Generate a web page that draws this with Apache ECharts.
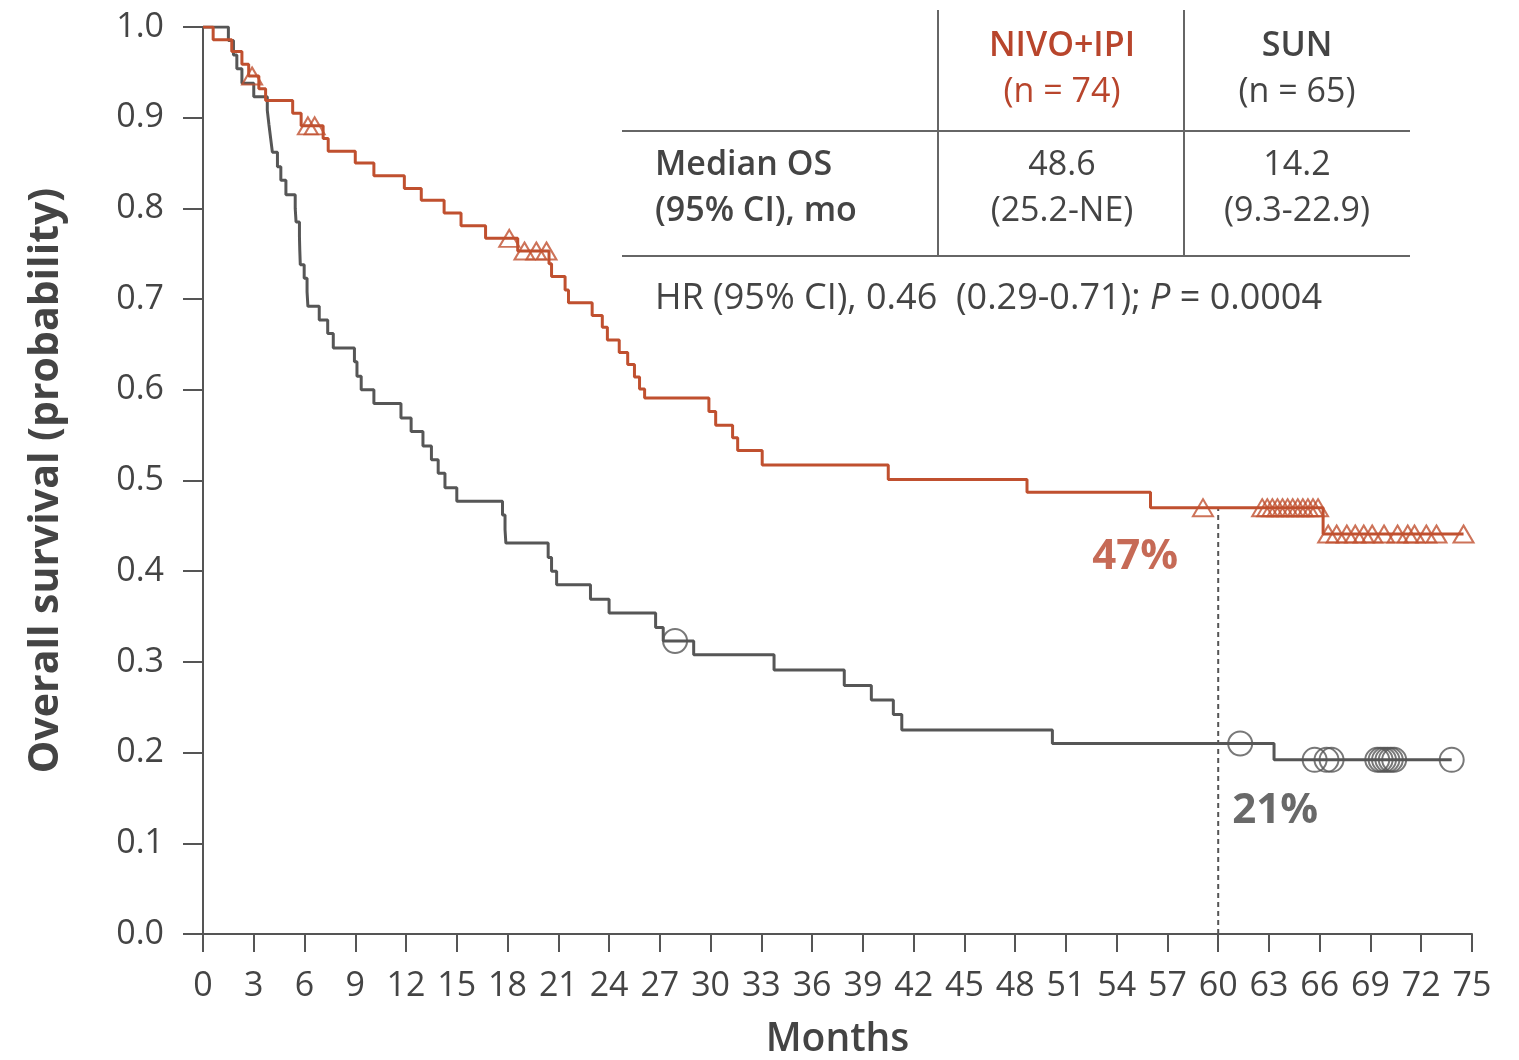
<!DOCTYPE html>
<html>
<head>
<meta charset="utf-8">
<script src="https://cdn.jsdelivr.net/npm/echarts@6/dist/echarts.min.js"></script>
<style>
  html, body { margin: 0; padding: 0; background: #ffffff; }
  #chart { width: 1519px; height: 1060px; }
</style>
</head>
<body>
<div id="chart"></div>
<script>
// Kaplan-Meier overall survival: NIVO+IPI vs SUN

// NIVO+IPI: event times (months) and survival after each event
const nivoEventMonths = [0.6, 1.7, 2.3, 2.7, 3.3, 3.7, 5.3, 5.8, 7.1, 7.4, 9.0, 10.1, 11.9, 12.9,
  14.25, 15.25, 16.7, 18.6, 20.45, 20.6, 21.4, 21.6, 23.0, 23.6, 23.9, 24.6, 25.1, 25.5, 25.8,
  26.1, 29.9, 30.3, 31.3, 31.6, 33.05, 40.5, 48.7, 56.0, 66.2];
const nivoSurvival = [0.986, 0.973, 0.959, 0.946, 0.932, 0.919, 0.905, 0.891, 0.877, 0.863, 0.850,
  0.836, 0.822, 0.809, 0.795, 0.781, 0.767, 0.753, 0.739, 0.725, 0.710, 0.696, 0.682, 0.669, 0.655,
  0.641, 0.628, 0.614, 0.601, 0.591, 0.576, 0.561, 0.547, 0.533, 0.517, 0.501, 0.487, 0.470, 0.441];
const nivoCensorMonths = [2.9, 6.2, 6.6, 18.1, 19.0, 19.7, 20.3, 59.1, 62.6, 62.9, 63.2, 63.5,
  63.8, 64.1, 64.4, 64.7, 65.0, 65.3, 65.6, 65.9, 66.5, 67.0, 67.6, 68.1, 68.6, 69.1, 69.8, 70.6,
  71.2, 71.6, 72.3, 72.9, 74.5];

// SUN: event times (months) and survival after each event
const sunEventMonths = [1.5, 1.8, 2.0, 2.3, 3.0, 3.8, 3.9, 4.0, 4.1, 4.4, 4.6, 4.9, 5.45, 5.5,
  5.7, 5.72, 5.75, 5.98, 6.15, 6.2, 6.87, 7.37, 7.7, 8.95, 9.1, 9.35, 10.1, 11.7, 12.3, 13.0, 13.5,
  13.9, 14.3, 15.0, 17.7, 17.85, 17.9, 20.4, 20.6, 20.9, 22.9, 24.0, 26.75, 27.2, 29.0, 33.75,
  37.9, 39.5, 40.8, 41.3, 50.2, 63.3];
const sunSurvival = [0.985, 0.969, 0.954, 0.938, 0.923, 0.908, 0.892, 0.877, 0.862, 0.846, 0.831,
  0.815, 0.800, 0.785, 0.769, 0.754, 0.738, 0.723, 0.708, 0.692, 0.677, 0.662, 0.646, 0.631, 0.615,
  0.600, 0.585, 0.569, 0.554, 0.538, 0.523, 0.508, 0.492, 0.477, 0.462, 0.446, 0.431, 0.415, 0.400,
  0.385, 0.369, 0.354, 0.338, 0.323, 0.308, 0.291, 0.274, 0.258, 0.242, 0.225, 0.210, 0.192];
const sunCensorMonths = [27.9, 61.3, 65.7, 66.4, 66.7, 69.4, 69.6, 69.8, 70.0, 70.2, 70.4, 73.8];

// Landmark at 60 months
const landmarkMonth = 60;
const landmarkNivo = 0.47;
const landmarkSun = 0.21;

// Axis ticks
const xTicks = { min: 0, max: 75, step: 3 };
const yTicks = { min: 0, max: 1, step: 0.1 };

// Summary table text
const tableHeaders = [['NIVO+IPI', '(n = 74)'], ['SUN', '(n = 65)']];
const tableRowLabel = ['Median OS', '(95% CI), mo'];
const tableMedians = [['48.6', '(25.2-NE)'], ['14.2', '(9.3-22.9)']];
const hrText = 'HR (95% CI), 0.46  (0.29-0.71); {it|P} = 0.0004';

const RED = '#c0502f';
const RED_TEXT = '#b8452c';
const GRAY = '#565656';
const AXIS = '#555555';
const TEXT = '#444444';
const FONT = '"Open Sans", "Noto Sans", sans-serif';
const TABLE_SIZE = 34;

function kmSteps(months, surv, endMonth) {
  const pts = [[0, 1]];
  for (let i = 0; i < months.length; i++) pts.push([months[i], surv[i]]);
  pts.push([endMonth, surv[surv.length - 1]]);
  return pts;
}
function survivalAt(t, months, surv) {
  let s = 1;
  for (let i = 0; i < months.length; i++) { if (months[i] <= t) s = surv[i]; }
  return s;
}

const nivoLine = kmSteps(nivoEventMonths, nivoSurvival, nivoCensorMonths[nivoCensorMonths.length - 1]);
const sunLine = kmSteps(sunEventMonths, sunSurvival, sunCensorMonths[sunCensorMonths.length - 1]);
const nivoCensors = nivoCensorMonths.map(t => [t, survivalAt(t, nivoEventMonths, nivoSurvival)]);
const sunCensors = sunCensorMonths.map(t => [t, survivalAt(t, sunEventMonths, sunSurvival)]);

const chart = echarts.init(document.getElementById('chart'), null, { renderer: 'canvas' });

// Summary table drawn as graphic elements
const colX = [1062, 1297];
const tableGraphics = [];
const hline = (y) => ({ type: 'line', shape: { x1: 622, y1: y, x2: 1410, y2: y }, style: { stroke: '#666', lineWidth: 2 } });
const vline = (x) => ({ type: 'line', shape: { x1: x, y1: 10, x2: x, y2: 256 }, style: { stroke: '#666', lineWidth: 2 } });
tableGraphics.push(hline(131), hline(256), vline(938), vline(1184));
tableHeaders.forEach((h, i) => {
  const color = i === 0 ? RED_TEXT : TEXT;
  tableGraphics.push({ type: 'text', x: colX[i], y: 46, style: { text: h[0], fill: color, fontFamily: FONT, fontSize: TABLE_SIZE, fontWeight: 600, align: 'center', verticalAlign: 'middle' } });
  tableGraphics.push({ type: 'text', x: colX[i], y: 92, style: { text: h[1], fill: color, fontFamily: FONT, fontSize: TABLE_SIZE, fontWeight: 'normal', align: 'center', verticalAlign: 'middle' } });
});
tableRowLabel.forEach((t, j) => {
  tableGraphics.push({ type: 'text', x: 655, y: 165 + j * 46, style: { text: t, fill: TEXT, fontFamily: FONT, fontSize: TABLE_SIZE, fontWeight: 600, align: 'left', verticalAlign: 'middle' } });
});
tableMedians.forEach((m, i) => {
  m.forEach((t, j) => {
    tableGraphics.push({ type: 'text', x: colX[i], y: 165 + j * 46, style: { text: t, fill: TEXT, fontFamily: FONT, fontSize: TABLE_SIZE, fontWeight: 'normal', align: 'center', verticalAlign: 'middle' } });
  });
});
tableGraphics.push({ type: 'text', x: 655, y: 299, style: { text: hrText, fill: TEXT, fontFamily: FONT, fontSize: 36, fontWeight: 'normal', align: 'left', verticalAlign: 'middle', rich: { it: { fontStyle: 'italic', fontFamily: FONT, fontSize: 36, fill: TEXT } } } });

chart.setOption({
  animation: false,
  backgroundColor: '#ffffff',
  grid: { left: 203, right: 47, top: 27, bottom: 126, containLabel: false, outerBoundsMode: 'none' },
  xAxis: {
    type: 'value', min: xTicks.min, max: xTicks.max, interval: xTicks.step,
    axisLine: { show: true, lineStyle: { color: AXIS, width: 2 } },
    axisTick: { show: true, length: 18, lineStyle: { color: AXIS, width: 2 } },
    axisLabel: { color: TEXT, fontFamily: FONT, fontSize: 34, margin: 35 },
    splitLine: { show: false },
    name: 'Months', nameLocation: 'middle', nameGap: 86,
    nameTextStyle: { color: TEXT, fontFamily: FONT, fontSize: 39, fontWeight: 600 }
  },
  yAxis: {
    type: 'value', min: yTicks.min, max: yTicks.max, interval: yTicks.step,
    axisLine: { show: true, lineStyle: { color: AXIS, width: 2 } },
    axisTick: { show: true, length: 20, lineStyle: { color: AXIS, width: 2 } },
    axisLabel: { color: TEXT, fontFamily: FONT, fontSize: 34, margin: 39, formatter: v => v.toFixed(1) },
    splitLine: { show: false },
    name: 'Overall survival (probability)', nameLocation: 'middle', nameGap: 136,
    nameTextStyle: { color: TEXT, fontFamily: FONT, fontSize: 41, fontWeight: 'bold' }
  },
  graphic: tableGraphics,
  series: [
    {
      name: 'Landmark', type: 'line', data: [[landmarkMonth, 0], [landmarkMonth, landmarkNivo]],
      showSymbol: false, silent: true, z: 1,
      lineStyle: { color: AXIS, width: 2, type: [5, 4] }
    },
    {
      name: 'SUN', type: 'line', step: 'end', data: sunLine, showSymbol: false, z: 2,
      lineStyle: { color: GRAY, width: 3 }
    },
    {
      name: 'NIVO+IPI', type: 'line', step: 'end', data: nivoLine, showSymbol: false, z: 3,
      lineStyle: { color: RED, width: 3 }
    },
    {
      name: 'SUN censored', type: 'scatter', data: sunCensors, symbol: 'circle', symbolSize: 24, z: 4,
      itemStyle: { color: 'rgba(255,255,255,0)', borderColor: GRAY, borderWidth: 2 }
    },
    {
      name: 'NIVO+IPI censored', type: 'scatter', data: nivoCensors, symbol: 'triangle', symbolSize: [20, 17], z: 5,
      itemStyle: { color: 'rgba(255,255,255,0)', borderColor: RED, borderWidth: 2 }
    },
    {
      name: 'Landmark labels', type: 'scatter', symbolSize: 0, silent: true, z: 6,
      data: [
        { value: [landmarkMonth, landmarkNivo], label: { show: true, formatter: Math.round(landmarkNivo * 100) + '%', offset: [-83, 49], color: RED_TEXT } },
        { value: [landmarkMonth, landmarkSun], label: { show: true, formatter: Math.round(landmarkSun * 100) + '%', offset: [57, 68], color: TEXT } }
      ],
      label: { position: 'inside', fontFamily: FONT, fontSize: 42, fontWeight: 'bold' }
    }
  ]
});
</script>
</body>
</html>
